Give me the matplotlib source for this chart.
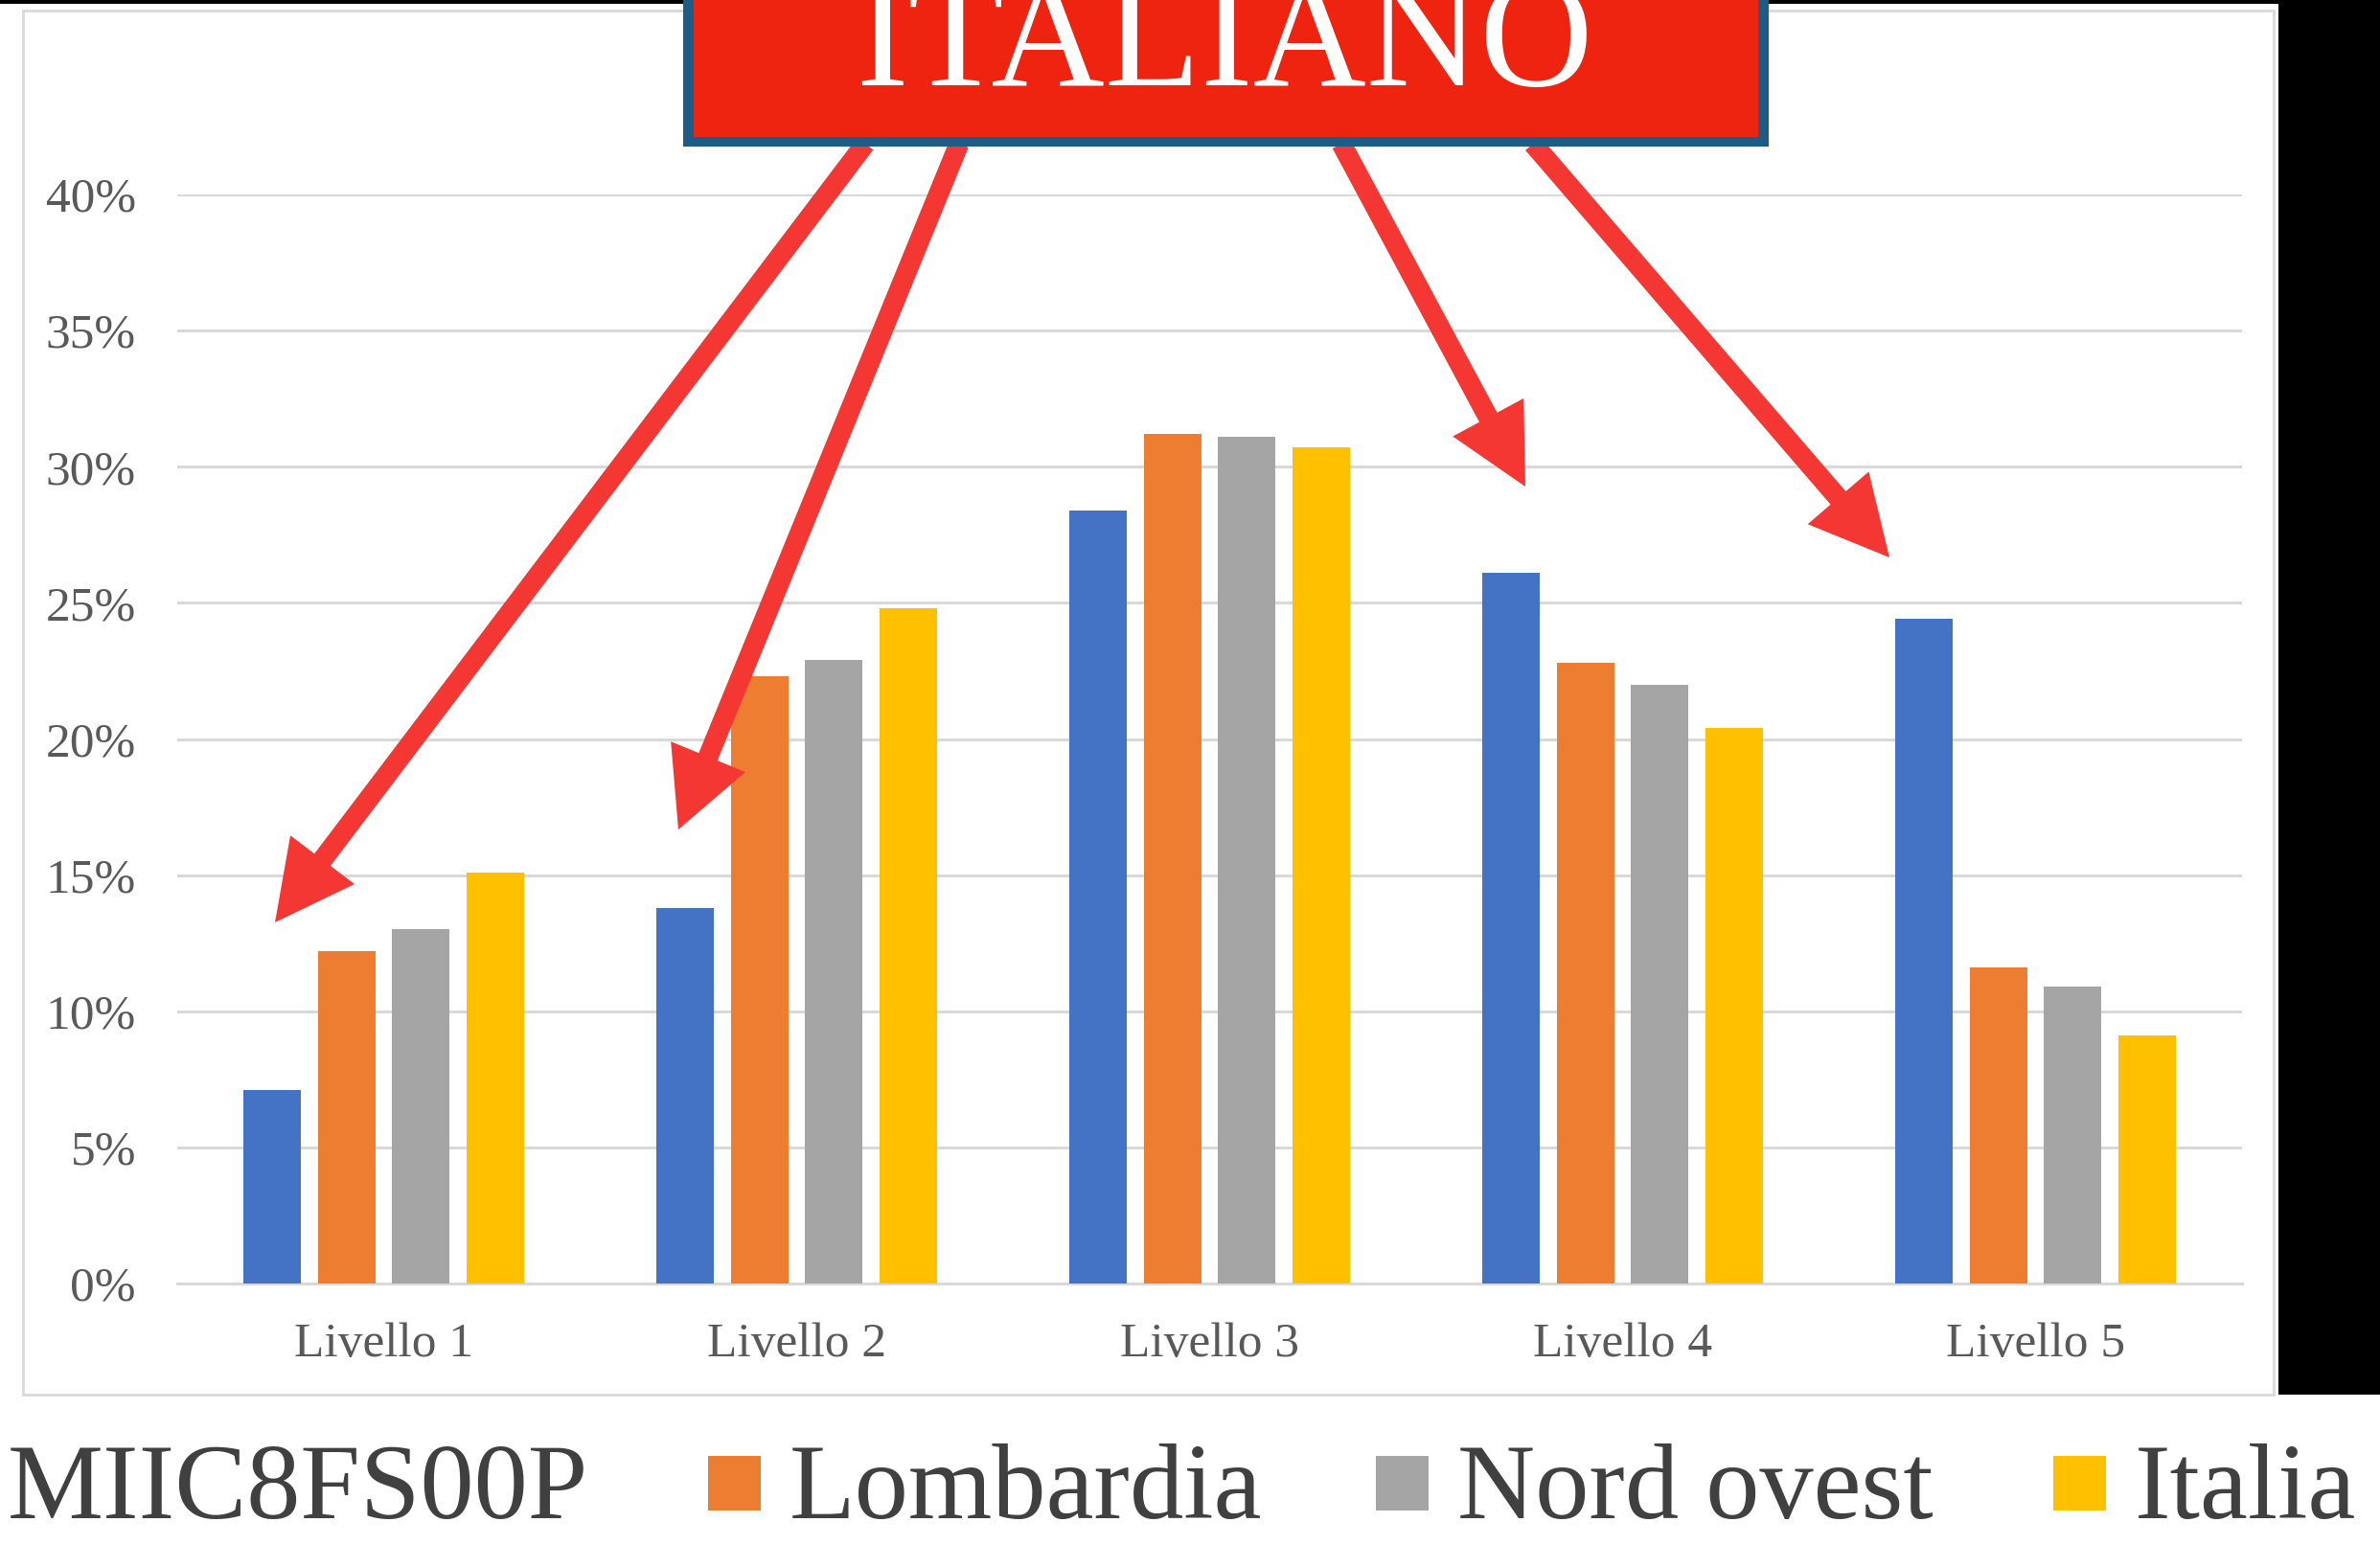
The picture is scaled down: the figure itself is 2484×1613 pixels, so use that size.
import numpy as np
import matplotlib
matplotlib.use("Agg")
import matplotlib.pyplot as plt
import matplotlib.patches as mpatches
import matplotlib.transforms as mtransforms

# dati (percentuali)
livelli = ["Livello 1", "Livello 2", "Livello 3", "Livello 4", "Livello 5"]
serie = ["MIIC8FS00P", "Lombardia", "Nord ovest", "Italia"]
miic = [7.1, 13.8, 28.4, 26.1, 24.4]
lombardia = [12.2, 22.3, 31.2, 22.8, 11.6]
nord_ovest = [13.0, 22.9, 31.1, 22.0, 10.9]
italia = [15.1, 24.8, 30.7, 20.4, 9.1]
yticks = [0, 5, 10, 15, 20, 25, 30, 35, 40]
colori = ["#4472C4", "#ED7D31", "#A5A5A5", "#FFC000"]

W, H = 2484, 1613
fig = plt.figure(figsize=(W / 100, H / 100), dpi=100)
fig.patch.set_facecolor("white")
# coordinate in pixel dall'alto a sinistra
px = mtransforms.Affine2D().scale(1 / W, -1 / H).translate(0, 1) + fig.transFigure

# sfondo: pannello bianco, bande nere
fig.add_artist(mpatches.Rectangle((24, 11), 2349, 1445, transform=px,
                                  facecolor="white", edgecolor="#D9D9D9", lw=2, zorder=-2))
fig.add_artist(mpatches.Rectangle((0, 0), W, 4, transform=px, facecolor="black", lw=0, zorder=-1))
fig.add_artist(mpatches.Rectangle((2378, 0), W - 2378, 1456, transform=px,
                                  facecolor="black", lw=0, zorder=-1))

ax = fig.add_axes([185 / W, 1 - 1340 / H, (2340 - 185) / W, (1340 - 203) / H])
ax.set_facecolor("none")
x = np.arange(len(livelli))
width = 0.139
pitch = 0.18
for i, (vals, c) in enumerate(zip([miic, lombardia, nord_ovest, italia], colori)):
    ax.bar(x + (i - 1.5) * pitch, vals, width, color=c, zorder=3, label=serie[i])

ax.set_ylim(0, 40)
ax.set_xlim(-0.5, 4.5)
ax.set_yticks(yticks)
ax.set_yticklabels([f"{v}%" for v in yticks])
ax.set_xticks(x)
ax.set_xticklabels(livelli)
ax.grid(axis="y", color="#D9D9D9", lw=2.2, zorder=0)
for s in ["top", "right", "left"]:
    ax.spines[s].set_visible(False)
ax.spines["bottom"].set_color("#D9D9D9")
ax.spines["bottom"].set_linewidth(2.2)
ax.tick_params(length=0, colors="#595959")
ax.tick_params(axis="y", pad=31)
ax.tick_params(axis="x", pad=29)
for lab in ax.get_xticklabels() + ax.get_yticklabels():
    lab.set_fontfamily("Liberation Serif")
    lab.set_fontsize(37)
    lab.set_color("#595959")

# frecce rosse
frecce = [((903, 150), (287, 963)), ((1001, 150), (708, 866)),
          ((1400, 150), (1592, 508)), ((1600, 150), (1972, 582))]
for (x0, y0), (x1, y1) in frecce:
    fig.add_artist(mpatches.FancyArrow(x0, y0, x1 - x0, y1 - y0, width=21, head_width=84,
                                       head_length=82, length_includes_head=True,
                                       transform=px, facecolor="#F43732", lw=0, zorder=5))

# riquadro titolo
fig.add_artist(mpatches.Rectangle((713, -20), 1133, 173, transform=px,
                                  facecolor="#1C5C87", lw=0, zorder=6))
fig.add_artist(mpatches.Rectangle((724, -20), 1111, 163, transform=px,
                                  facecolor="#EE2310", lw=0, zorder=6))
fig.text(1278, 89, "ITALIANO", transform=px, ha="center", va="baseline",
         fontsize=118, color="white", family="Liberation Serif", zorder=7)

# legenda
leg_x = [8, 824, 1521, 2228]
for nome, c, lx in zip(serie, colori, leg_x):
    fig.add_artist(mpatches.Rectangle((lx - 85, 1520), 55, 57, transform=px,
                                      facecolor=c, lw=0, zorder=4))
    fig.text(lx, 1585, nome, transform=px, ha="left", va="baseline",
             fontsize=81, color="#404040", family="Liberation Serif", zorder=4)

fig.savefig("out.png", dpi=100)
